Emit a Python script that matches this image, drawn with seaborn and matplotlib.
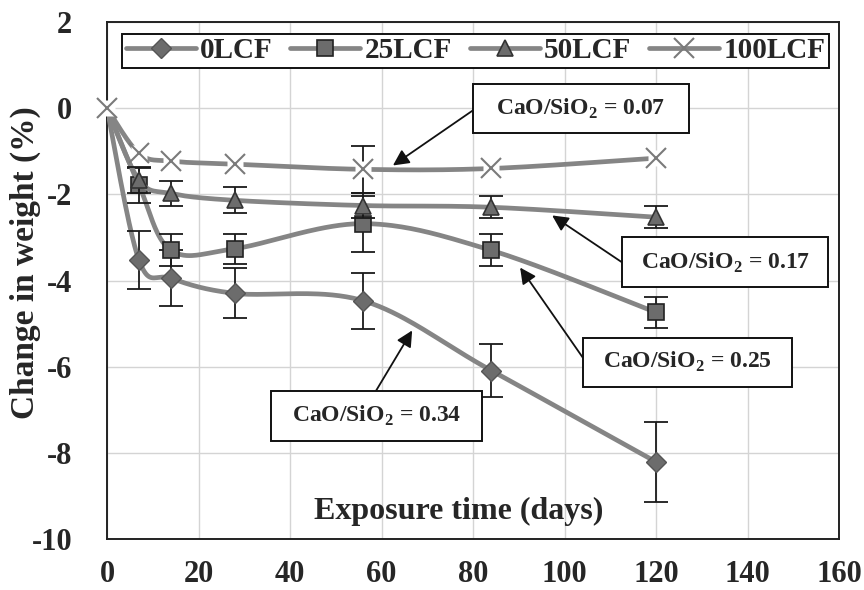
import numpy as np
import pandas as pd
import seaborn as sns
import matplotlib
matplotlib.use("Agg")
import matplotlib.pyplot as plt
from matplotlib.lines import Line2D
from matplotlib.patches import Rectangle

# ---- data -------------------------------------------------------------
days = [0, 7, 14, 28, 56, 84, 120]
series_names = ["0LCF", "25LCF", "50LCF", "100LCF"]
lcf0 = [0, -3.53, -3.95, -4.30, -4.47, -6.09, -8.21]
lcf0_err = [0, 0.67, 0.65, 0.58, 0.65, 0.62, 0.92]
lcf25 = [0, -1.79, -3.30, -3.26, -2.68, -3.30, -4.74]
lcf25_err = [0, 0.40, 0.37, 0.35, 0.65, 0.37, 0.36]
lcf50 = [0, -1.67, -1.98, -2.14, -2.26, -2.30, -2.53]
lcf50_err = [0, 0.30, 0.28, 0.30, 0.30, 0.26, 0.25]
lcf100 = [0, -1.05, -1.23, -1.30, -1.42, -1.40, -1.16]
lcf100_err = [0, 0, 0, 0, 0.55, 0, 0]
ratio_labels = ["0.07", "0.17", "0.25", "0.34"]
x_ticks = [0, 20, 40, 60, 80, 100, 120, 140, 160]
y_ticks = [2, 0, -2, -4, -6, -8, -10]

# ---- style ------------------------------------------------------------
sns.set_style("white")
plt.rcParams["font.family"] = ["Liberation Serif", "DejaVu Serif"]
plt.rcParams["font.weight"] = "bold"
plt.rcParams["mathtext.fontset"] = "custom"
plt.rcParams["mathtext.rm"] = "Liberation Serif:bold"
plt.rcParams["mathtext.bf"] = "Liberation Serif:bold"

LINE = "#858585"
FILL = "#6c6c6c"


def smooth_curve(x, y, n=40):
    """Cubic Bezier curve through the points (spreadsheet style smoothing)."""
    pts = np.column_stack([x, y]).astype(float)
    segs = []
    for i in range(len(pts) - 1):
        p0 = pts[i - 1] if i > 0 else pts[i]
        p1, p2 = pts[i], pts[i + 1]
        p3 = pts[i + 2] if i + 2 < len(pts) else pts[i + 1]
        c1 = p1 + (p2 - p0) / 6.0
        c2 = p2 - (p3 - p1) / 6.0
        t = np.linspace(0, 1, n)[:, None]
        seg = (1 - t) ** 3 * p1 + 3 * (1 - t) ** 2 * t * c1 + 3 * (1 - t) * t ** 2 * c2 + t ** 3 * p2
        segs.append(seg if i == 0 else seg[1:])
    return np.vstack(segs)


fig = plt.figure(figsize=(8.64, 5.90), dpi=100)
ax = fig.add_axes([107 / 864, 1 - 539 / 590, 732 / 864, 517 / 590])

styles = [
    dict(marker="D", ms=10, mfc=FILL, mec="#555555", mew=1.0),
    dict(marker="s", ms=12, mfc=FILL, mec="#222222", mew=1.2),
    dict(marker="^", ms=12, mfc=FILL, mec="#333333", mew=1.2),
    dict(marker="x", ms=14, mfc="none", mec="#7a7a7a", mew=1.5),
]
values = [lcf0, lcf25, lcf50, lcf100]
errors = [lcf0_err, lcf25_err, lcf50_err, lcf100_err]

for k, (name, vals, errs, st) in enumerate(zip(series_names, values, errors, styles)):
    curve = smooth_curve(days, vals)
    df = pd.DataFrame({"day": curve[:, 0], "val": curve[:, 1]})
    sns.lineplot(data=df, x="day", y="val", sort=False, estimator=None,
                 color=LINE, lw=3.4, ax=ax, zorder=3 + k * 3, legend=False)
    x_arr = np.array(days)
    v_arr = np.array(vals)
    e_arr = np.array(errs)
    has_err = e_arr > 0
    ax.errorbar(x_arr[has_err], v_arr[has_err], yerr=e_arr[has_err], fmt="none",
                ecolor="#1a1a1a", elinewidth=1.3, capsize=8.5, capthick=1.3,
                zorder=3.5 + k * 3)
    if st["marker"] == "x":
        # white backing so the line stops at each cross
        ax.plot(x_arr, v_arr, ls="none", marker="s", ms=11, mfc="white",
                mec="none", zorder=4 + k * 3, clip_on=False)
        ax.plot(x_arr, v_arr, ls="none", zorder=4.5 + k * 3, clip_on=False, **st)
    else:
        ax.plot(x_arr[1:], v_arr[1:], ls="none", zorder=4 + k * 3, **st)

# ---- axes -------------------------------------------------------------
ax.set_xlim(0, 160)
ax.set_ylim(-10, 2)
ax.set_xticks(x_ticks)
ax.set_yticks(y_ticks)
ax.set_xticklabels([str(v) for v in x_ticks])
ax.set_yticklabels([str(v) for v in y_ticks])
ax.tick_params(axis="x", length=0, pad=15, labelsize=22)
ax.tick_params(axis="y", length=0, pad=25, labelsize=22)
for lab in ax.get_xticklabels() + ax.get_yticklabels():
    lab.set_fontweight("bold")
ax.grid(True, color="#d4d4d4", lw=1.0)
ax.set_axisbelow(True)
for sp in ax.spines.values():
    sp.set_visible(True)
    sp.set_color("#222222")
    sp.set_linewidth(1.4)

ax.set_xlabel("Exposure time (days)", fontsize=23, fontweight="bold")
ax.xaxis.set_label_coords(0.481, 0.054)
ax.xaxis.label.set_va("center")
ax.set_ylabel("Change in weight (%)", fontsize=24, fontweight="bold")
ax.yaxis.set_label_coords(-0.112, 0.535)
ax.yaxis.label.set_va("center")

# ---- legend -----------------------------------------------------------
handles = [Line2D([], [], color=LINE, lw=3.4, **st) for st in styles]
leg = ax.legend(handles, series_names, ncol=4, mode="expand",
                loc="center", bbox_to_anchor=(15 / 732, 1 - 28.5 / 517, 707 / 732, 0.0),
                bbox_transform=ax.transAxes, frameon=True, fancybox=False,
                edgecolor="#111111", framealpha=1, borderpad=0.12, borderaxespad=0,
                handlelength=2.4, handletextpad=0.15, columnspacing=0.6,
                prop={"size": 21, "weight": "bold"})
leg.get_frame().set_linewidth(1.4)
leg.set_zorder(20)

# ---- CaO/SiO2 call-outs -----------------------------------------------
boxes = [(80.0, -0.581, 47.2, 1.139), (112.6, -4.16, 45.0, 1.16),
         (104.0, -6.47, 45.7, 1.14), (35.8, -7.72, 46.2, 1.16)]
arrows = [((80.0, -0.05), (62.5, -1.33)), ((112.6, -3.58), (97.3, -2.49)),
          ((104.0, -5.79), (90.3, -3.70)), ((58.8, -6.56), (66.7, -5.16))]
for lab, (bx, by, bw, bh), (start, tip) in zip(ratio_labels, boxes, arrows):
    ax.annotate("", xy=tip, xytext=start,
                arrowprops=dict(arrowstyle="-|>", color="#111111", lw=1.3,
                                mutation_scale=24, shrinkA=0, shrinkB=0),
                zorder=18)
    ax.add_patch(Rectangle((bx, by), bw, bh, facecolor="white", edgecolor="#111111",
                           lw=1.4, zorder=19))
    ax.text(bx + bw / 2, by + bh / 2, r"CaO/SiO$_\mathregular{2}$ = " + lab,
            ha="center", va="center", fontsize=17, fontweight="bold", zorder=20)

fig.savefig("out.png", dpi=100)
